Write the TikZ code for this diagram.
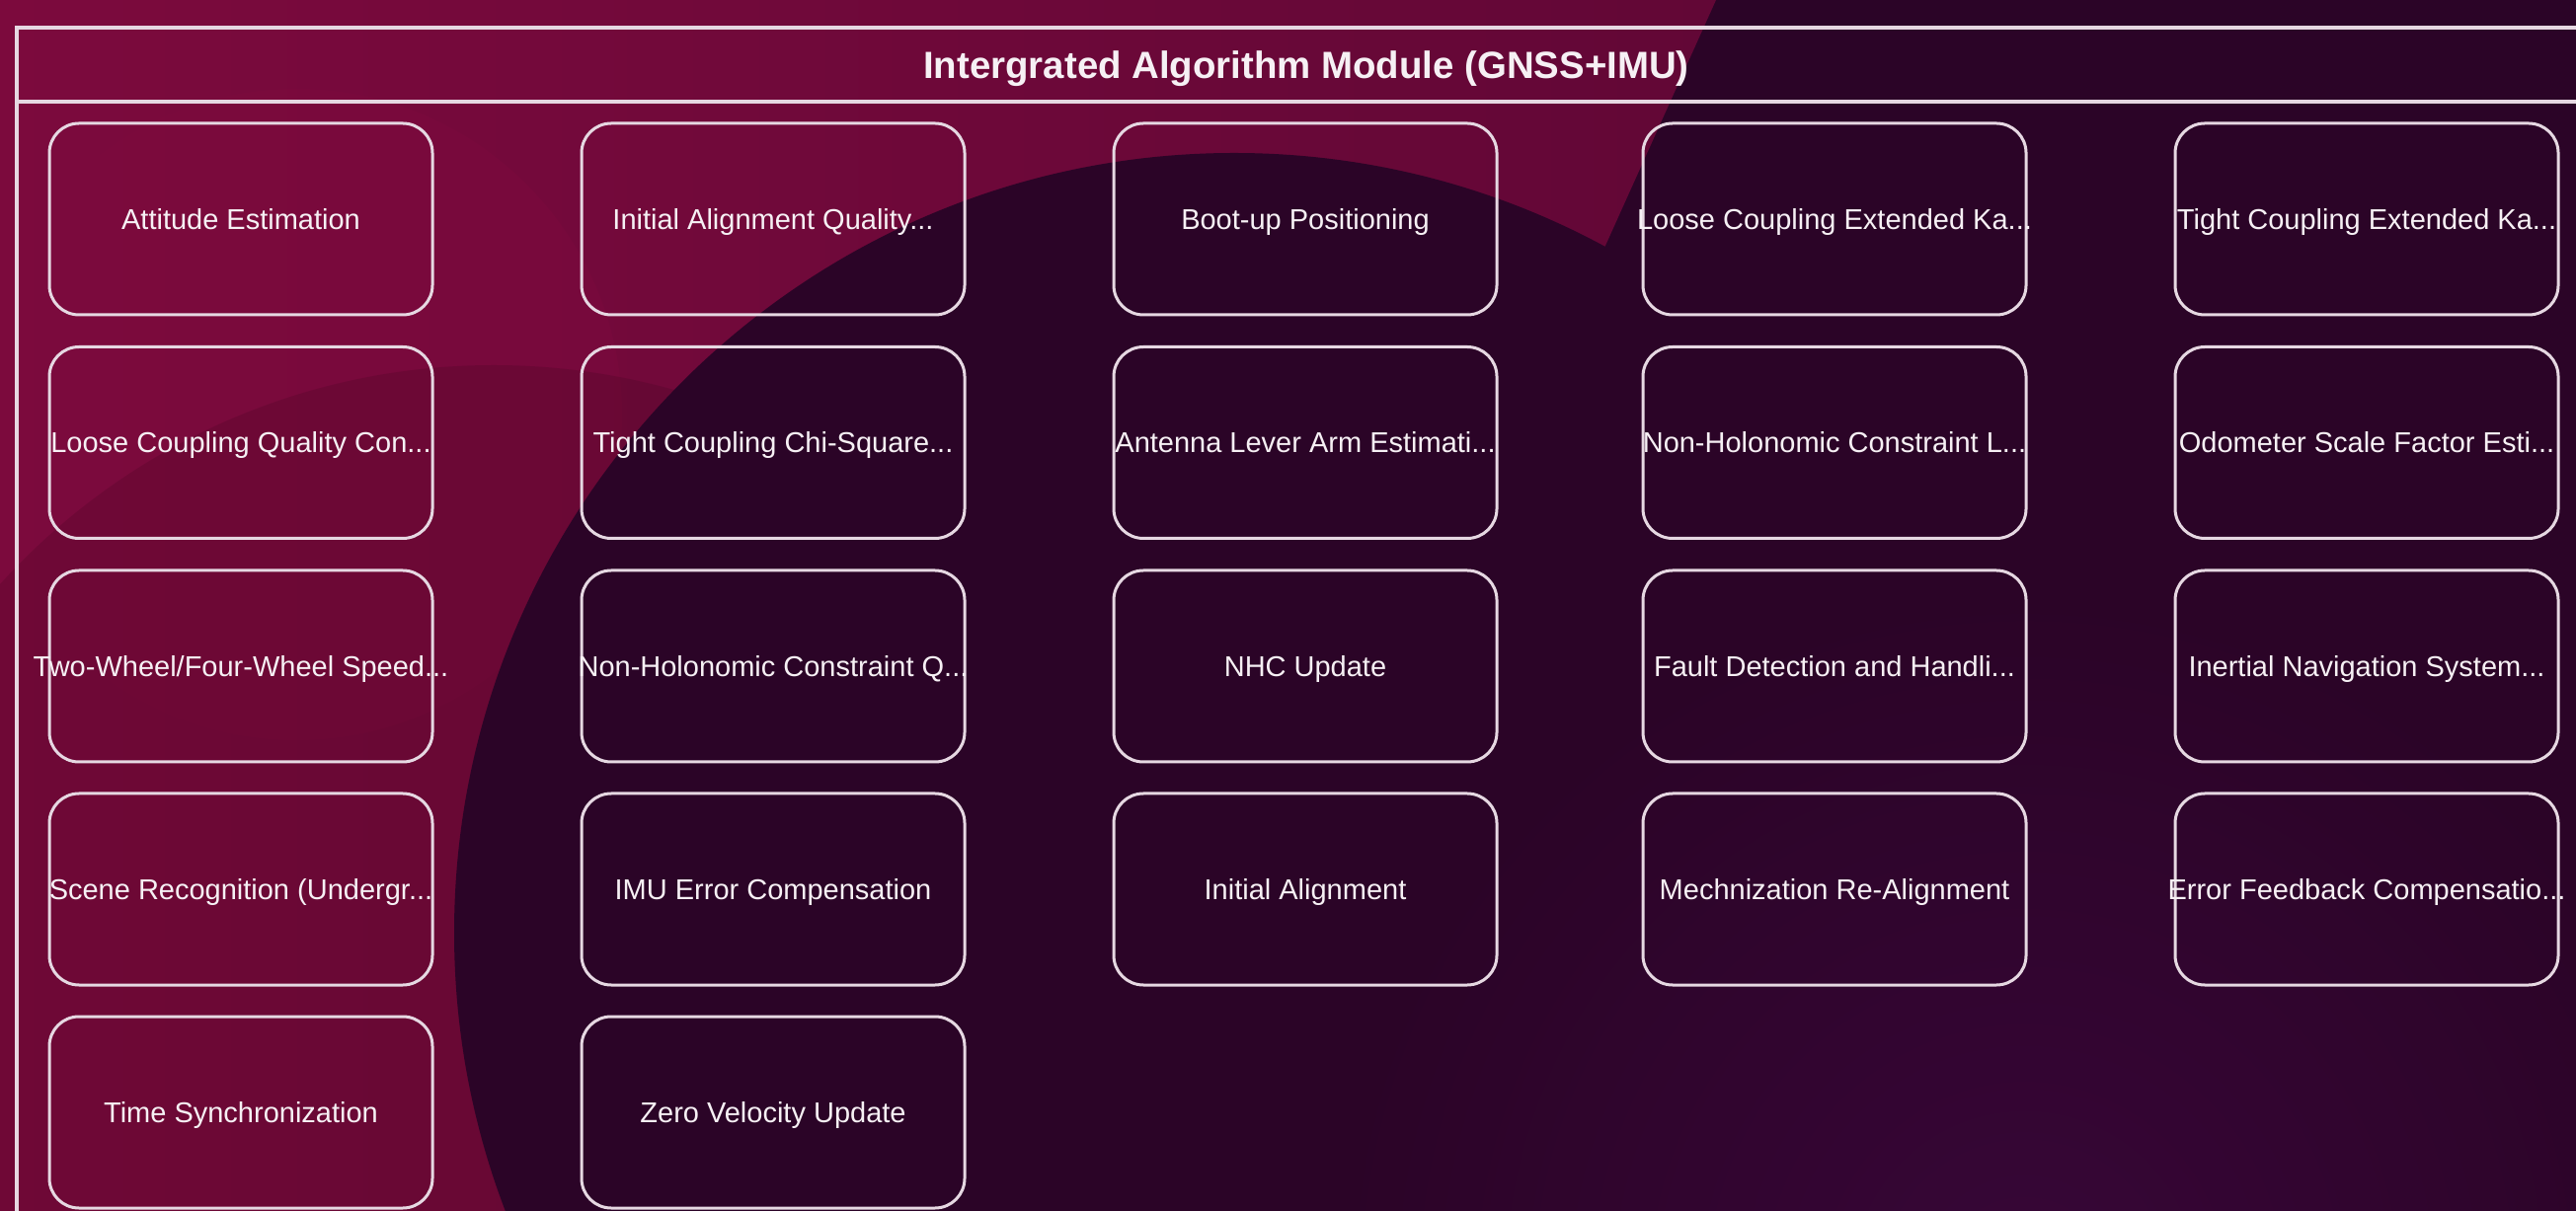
\documentclass[tikz,border=0pt]{standalone}
\usepackage{fontspec}
\setmainfont{Liberation Sans}
\definecolor{crimL}{HTML}{7C0A3D}
\definecolor{crimR}{HTML}{620736}
\definecolor{plum}{HTML}{2B0427}
\definecolor{plumlt}{HTML}{370637}
\definecolor{linec}{HTML}{E6D8E2}
\definecolor{txtc}{HTML}{F6F0F4}
\begin{document}
\begin{tikzpicture}[x=0.25pt,y=-0.25pt,
  box/.style={draw=linec, line width=0.75pt, rounded corners=7.5pt,
    minimum width=97pt, minimum height=48.5pt, inner sep=0pt,
    text height=5.2pt, text depth=0pt,
    text=txtc, font=\fontsize{7.25pt}{8.7pt}\selectfont},
  frameline/.style={draw=linec, line width=1pt},
  titletext/.style={text=txtc, font=\fontsize{9.6pt}{11.5pt}\selectfont\bfseries,
    inner sep=0pt, text height=6.9pt, text depth=0pt}]
\useasboundingbox (0,0) rectangle (2609,1227);
\begin{scope}
\clip (0,0) rectangle (2609,1227);
% background
\fill[plum] (0,0) rectangle (2609,1227);
\shade[left color=crimL, right color=crimR] (0,0) -- (1738,0) -- (1300,973) -- (1300,1227) -- (0,1227) -- cycle;
\fill[crimL, opacity=0.5] (300,420) circle (330);
\fill[black, opacity=0.10] (500,1044) circle (674);
\fill[plum] (1250,945) circle (790);
\shade[inner color=plumlt, outer color=plum] (2050,1300) circle (700);
% frame
\draw[frameline] (17,28) rectangle (2640,1260);
\draw[frameline] (17,103) -- (2640,103);
\end{scope}
\node[titletext] (title) at (1323,66) {Intergrated Algorithm Module (GNSS+IMU)};
% row 1
\node[box] (b11) at (244,222) {\makebox[0pt][c]{Attitude Estimation}};
\node[box] (b12) at (783,222) {\makebox[0pt][c]{Initial Alignment Quality...}};
\node[box] (b13) at (1322,222) {\makebox[0pt][c]{Boot-up Positioning}};
\node[box] (b14) at (1858,222) {\makebox[0pt][c]{Loose Coupling Extended Ka...}};
\node[box] (b15) at (2397,222) {\makebox[0pt][c]{Tight Coupling Extended Ka...}};
% row 2
\node[box] (b21) at (244,448.5) {\makebox[0pt][c]{Loose Coupling Quality Con...}};
\node[box] (b22) at (783,448.5) {\makebox[0pt][c]{Tight Coupling Chi-Square...}};
\node[box] (b23) at (1322,448.5) {\makebox[0pt][c]{Antenna Lever Arm Estimati...}};
\node[box] (b24) at (1858,448.5) {\makebox[0pt][c]{Non-Holonomic Constraint L...}};
\node[box] (b25) at (2397,448.5) {\makebox[0pt][c]{Odometer Scale Factor Esti...}};
% row 3
\node[box] (b31) at (244,675) {\makebox[0pt][c]{Two-Wheel/Four-Wheel Speed...}};
\node[box] (b32) at (783,675) {\makebox[0pt][c]{Non-Holonomic Constraint Q...}};
\node[box] (b33) at (1322,675) {\makebox[0pt][c]{NHC Update}};
\node[box] (b34) at (1858,675) {\makebox[0pt][c]{Fault Detection and Handli...}};
\node[box] (b35) at (2397,675) {\makebox[0pt][c]{Inertial Navigation System...}};
% row 4
\node[box] (b41) at (244,901) {\makebox[0pt][c]{Scene Recognition (Undergr...}};
\node[box] (b42) at (783,901) {\makebox[0pt][c]{IMU Error Compensation}};
\node[box] (b43) at (1322,901) {\makebox[0pt][c]{Initial Alignment}};
\node[box] (b44) at (1858,901) {\makebox[0pt][c]{Mechnization Re-Alignment}};
\node[box] (b45) at (2397,901) {\makebox[0pt][c]{Error Feedback Compensatio...}};
% row 5
\node[box] (b51) at (244,1127) {\makebox[0pt][c]{Time Synchronization}};
\node[box] (b52) at (783,1127) {\makebox[0pt][c]{Zero Velocity Update}};
\end{tikzpicture}
\end{document}
